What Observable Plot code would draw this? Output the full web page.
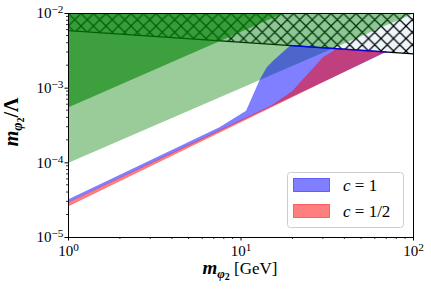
<!DOCTYPE html>
<html><head><meta charset="utf-8">
<script src="https://cdn.jsdelivr.net/npm/d3@7"></script>
<script src="https://cdn.jsdelivr.net/npm/@observablehq/plot@0.6"></script>
<style>body{margin:0;background:#fff}</style>
</head><body><div id="chart"></div>
<script>
// ---- axes ----
const xDomain = [1, 100];
const yDomain = [1e-5, 1e-2];
const xTicks = [1, 10, 100];
const yTicks = [1e-5, 1e-4, 1e-3, 1e-2];
const xMinorDecades = [1, 10];
const yMinorDecades = [1e-5, 1e-4, 1e-3];
const minorSteps = [2, 3, 4, 5, 6, 7, 8, 9];

// ---- regions (vertices in data units) ----
const hatchX = [1, 1, 100, 100];
const hatchY = [1e-2, 5.9e-3, 2.88e-3, 1e-2];
const hatchEdgeX = [1, 100];
const hatchEdgeY = [5.9e-3, 2.88e-3];

const lightGreenX = [1, 1, 100];
const lightGreenY = [1e-2, 1e-4, 1e-2];
const darkGreenX = [1, 1, 17.5];
const darkGreenY = [1e-2, 5.55e-4, 1e-2];

const blueX = [1, 7.5, 10.7, 12.9, 14.1, 15.4, 19.3, 69.5, 1];
const blueY = [3.25e-5, 2.99e-4, 5.0e-4, 1.33e-3, 1.91e-3, 2.35e-3, 3.73e-3, 3.05e-3, 2.95e-5];
const blueEdgeX = [19.3, 69.5];
const blueEdgeY = [3.73e-3, 3.05e-3];

const redX = [1, 15, 19.8, 29.9, 36.1, 68, 1];
const redY = [2.95e-5, 5.82e-4, 9.0e-4, 2.58e-3, 3.37e-3, 3.05e-3, 2.65e-5];

const legendVars = ["c", "c"];
const legendRest = [" = 1", " = 1/2"];
const legendColors = ["blue", "red"];

const pts = (xs, ys) => xs.map((x, i) => ({x, y: ys[i]}));
const expFmt = d => { const e = Math.round(Math.log10(d)); return "10|" + (e < 0 ? "\u2212" + (-e) : e); };

const plot = Plot.plot({
  width: 431, height: 289,
  marginLeft: 68, marginRight: 18, marginTop: 13, marginBottom: 52,
  style: {fontFamily: "'Liberation Serif', serif", fontSize: "15px", background: "white", color: "black"},
  x: {type: "log", domain: xDomain, ticks: xTicks, tickFormat: expFmt, tickSize: 3.5, tickPadding: 4, label: null},
  y: {type: "log", domain: yDomain, ticks: yTicks, tickFormat: expFmt, tickSize: 3.5, tickPadding: 1.5, label: null},
  marks: [
    Plot.line(pts(hatchX, hatchY), {x: "x", y: "y", fill: "#eef6fc", stroke: "none"}),
    Plot.line(pts(hatchX, hatchY), {x: "x", y: "y", fill: "url(#xxhatch)", stroke: "none"}),
    Plot.line(pts(hatchEdgeX, hatchEdgeY), {x: "x", y: "y", stroke: "black", strokeWidth: 1.3}),
    Plot.line(pts(lightGreenX, lightGreenY), {x: "x", y: "y", fill: "green", fillOpacity: 0.4, stroke: "none"}),
    Plot.line(pts(darkGreenX, darkGreenY), {x: "x", y: "y", fill: "green", fillOpacity: 0.6, stroke: "none"}),
    Plot.line(pts(blueX, blueY), {x: "x", y: "y", fill: "blue", fillOpacity: 0.5, stroke: "none"}),
    Plot.line(pts(redX, redY), {x: "x", y: "y", fill: "red", fillOpacity: 0.5, stroke: "red", strokeOpacity: 0.25, strokeWidth: 0.8}),
    Plot.line(pts(blueEdgeX, blueEdgeY), {x: "x", y: "y", stroke: "blue", strokeWidth: 1.3, strokeOpacity: 0.75}),
    Plot.frame({stroke: "black", strokeWidth: 1})
  ]
});

const svg = d3.select(plot);
// hatch pattern
const defs = svg.insert("defs", ":first-child");
const pat = defs.append("pattern").attr("id", "xxhatch").attr("patternUnits", "userSpaceOnUse")
  .attr("width", 12.5).attr("height", 12.5).attr("x", 68).attr("y", 13);
pat.append("path").attr("d", "M0,0L12.5,12.5M12.5,0L0,12.5M-1,1L1,-1M11.5,13.5L13.5,11.5M-1,11.5L1,13.5M11.5,-1L13.5,1")
  .attr("stroke", "black").attr("stroke-width", 1.25).attr("fill", "none");

// superscripts on tick labels
svg.selectAll("text").each(function() {
  const t = d3.select(this);
  const s = t.text();
  if (s.includes("|")) {
    const [b, e] = s.split("|");
    t.text(b);
    t.append("tspan").attr("dy", "-0.45em").attr("font-size", "0.75em").text(e);
  }
});

// minor ticks via the plot scales
const sx = plot.scale("x"), sy = plot.scale("y");
const bottom = 289 - 52, left = 68;
const minor = svg.append("g").attr("stroke", "black").attr("stroke-width", 0.8);
xMinorDecades.forEach(d => minorSteps.forEach(m => {
  const px = sx.apply(d * m);
  minor.append("line").attr("x1", px).attr("x2", px).attr("y1", bottom).attr("y2", bottom + 2);
}));
yMinorDecades.forEach(d => minorSteps.forEach(m => {
  const py = sy.apply(d * m);
  minor.append("line").attr("x1", left).attr("x2", left - 2).attr("y1", py).attr("y2", py);
}));

// axis labels
const bi = "'Liberation Serif', serif";
const xl = svg.append("text").attr("x", 240).attr("y", 274).attr("text-anchor", "middle")
  .attr("font-family", bi).attr("font-size", 19);
xl.append("tspan").attr("font-weight", "bold").attr("font-style", "italic").text("m");
xl.append("tspan").attr("font-weight", "bold").attr("font-style", "italic").attr("font-size", 13).attr("dy", 4).text("\u03c6");
xl.append("tspan").attr("font-weight", "bold").attr("font-size", 10).attr("dy", 2).text("2");
xl.append("tspan").attr("font-size", 17).attr("dy", -6).text(" [GeV]");

const yl = svg.append("text").attr("transform", "translate(18,122) rotate(-90)").attr("text-anchor", "middle")
  .attr("font-family", bi).attr("font-size", 20).attr("font-weight", "bold");
yl.append("tspan").attr("font-style", "italic").text("m");
yl.append("tspan").attr("font-style", "italic").attr("font-size", 14).attr("dy", 4).text("\u03c6");
yl.append("tspan").attr("font-size", 10).attr("dy", 2).text("2");
yl.append("tspan").attr("dy", -6).text("/\u039b");

// legend
const lg = svg.append("g").attr("text-anchor", "start");
lg.append("rect").attr("x", 287.5).attr("y", 172.5).attr("width", 116).attr("height", 55).attr("rx", 3)
  .attr("fill", "white").attr("fill-opacity", 0.8).attr("stroke", "#cccccc");
legendVars.forEach((v, i) => {
  const y0 = 178.5 + i * 26;
  lg.append("rect").attr("x", 293.5).attr("y", y0).attr("width", 36).attr("height", 13)
    .attr("fill", legendColors[i]).attr("fill-opacity", 0.5).attr("stroke", legendColors[i]).attr("stroke-opacity", 0.5);
  const t = lg.append("text").attr("x", 343).attr("y", y0 + 12).attr("text-anchor", "start")
    .attr("font-family", bi).attr("font-size", 17);
  t.append("tspan").attr("font-style", "italic").text(v);
  t.append("tspan").text(legendRest[i]);
});

document.getElementById("chart").appendChild(plot);
</script>
</body></html>
